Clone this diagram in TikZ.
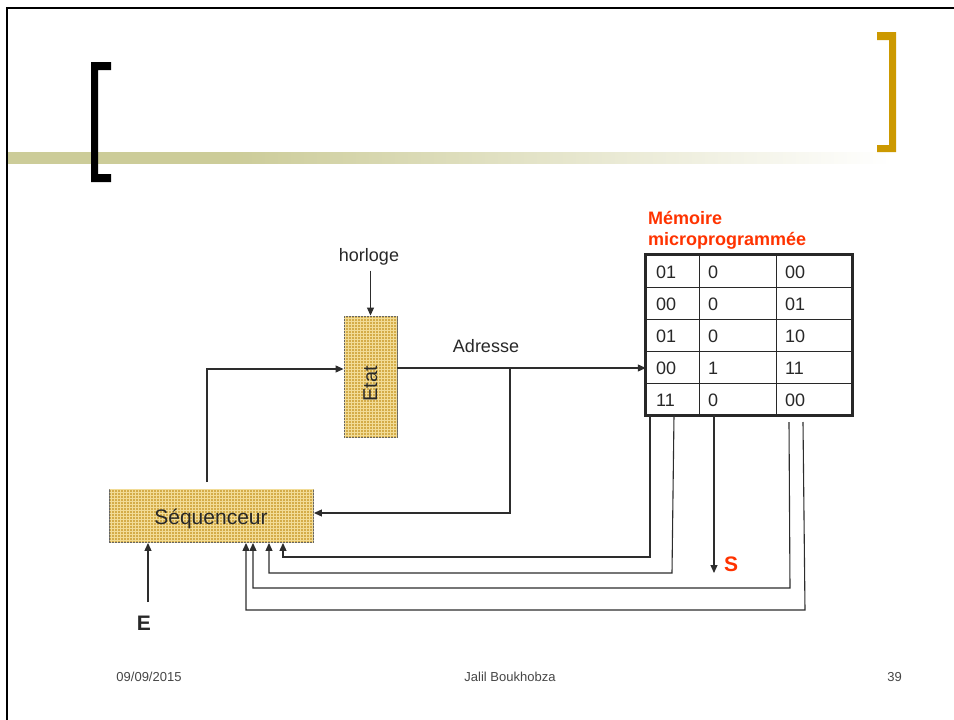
\documentclass[tikz,border=0pt]{standalone}
\usepackage{fontspec}
\setmainfont{Liberation Sans}
\usetikzlibrary{arrows.meta,patterns,calc}
\definecolor{txt}{RGB}{40,40,40}
\definecolor{wirec}{RGB}{45,45,45}
\definecolor{boxfill}{RGB}{212,172,72}
\definecolor{boxpat}{RGB}{242,220,150}
\definecolor{olivebar}{RGB}{204,204,153}
\definecolor{goldc}{RGB}{204,153,0}
\definecolor{redt}{RGB}{255,51,0}
\definecolor{foot}{RGB}{70,70,70}
\pgfdeclarehorizontalshading{barshade}{100bp}{color(0bp)=(olivebar); color(25bp)=(olivebar); color(37.7bp)=(olivebar); color(75bp)=(white); color(100bp)=(white)}
\begin{document}
\begin{tikzpicture}[x=1pt,y=-1pt,
  wire/.style={draw=wirec, line width=1.1pt},
  arr/.style={wire,-{Triangle[length=8pt,width=7pt]}},
  tbox/.style={draw=black!60, line width=0.9pt, fill=boxfill, inner sep=0pt,
     postaction={pattern=grid, pattern color=boxpat}},
  lbl/.style={text=txt, anchor=base, inner sep=0pt, font=\fontsize{18}{21}\selectfont},
  cellt/.style={text=txt, anchor=base west, inner sep=0pt, font=\fontsize{18}{21}\selectfont},
  cellline/.style={draw=txt, line width=1pt},
  foottxt/.style={text=foot, anchor=base, inner sep=0pt, font=\fontsize{13}{15}\selectfont}]
\useasboundingbox (0,0) rectangle (954,720);
\fill[white] (0,0) rectangle (954,720);
% slide frame
\draw[line width=2pt] (7,720) -- (7,8) -- (954,8);
% title bar
\shade[shading=barshade] (8,152) rectangle (892,163);
% brackets
\fill[black] (91,62) -- (111,62) -- (111,70) -- (98,70) -- (98,174) -- (111,174) -- (111,182) -- (91,182) -- cycle;
\fill[goldc] (896,32) -- (877,32) -- (877,40) -- (889,40) -- (889,145) -- (877,145) -- (877,152) -- (896,152) -- cycle;

% boxes
\node[tbox, minimum width=53pt, minimum height=121pt] (etat) at (370.5,376.5) {};
\node[rotate=90, anchor=base, inner sep=0pt, text=txt, font=\fontsize{20}{22}\selectfont] (etattxt) at (377,384) {Etat};
\node[tbox, minimum width=204pt, minimum height=53pt] (seq) at (211.5,516) {};
\node[anchor=base, inner sep=0pt, text=txt, font=\fontsize{21}{24}\selectfont] (seqtxt) at (211,524) {Séquenceur};

% memory table
\node[minimum width=206pt, minimum height=160pt, inner sep=0pt] (mem) at (749,335) {};
\foreach \cx in {699,776} \draw[cellline] (mem.north -| \cx,0) -- (mem.south -| \cx,0);
\foreach \ry in {287,319,351,383} \draw[cellline] (mem.west |- 0,\ry) -- (mem.east |- 0,\ry);
\draw[draw=txt, line width=2.7pt] (mem.north west) rectangle (mem.south east);
\foreach \a/\b/\c [count=\i] in {01/0/00, 00/0/01, 01/0/10, 00/1/11, 11/0/00} {
  \node[cellt] (ca\i) at (656,{278+32*(\i-1)}) {\a};
  \node[cellt] (cb\i) at (708,{278+32*(\i-1)}) {\b};
  \node[cellt] (cc\i) at (785,{278+32*(\i-1)}) {\c};
}
\node[anchor=base west, inner sep=0pt, text=redt, font=\bfseries\fontsize{18}{21}\selectfont] (memt1) at (648,224) {Mémoire};
\node[anchor=base west, inner sep=0pt, text=redt, font=\bfseries\fontsize{18}{21}\selectfont] (memt2) at (648,245) {microprogrammée};

% labels
\node[lbl] (horl) at (369,261) {horloge};
\node[lbl] (adr) at (486,352) {Adresse};
\node[anchor=base, inner sep=0pt, text=txt, font=\bfseries\fontsize{21}{24}\selectfont] (E) at (144,630) {E};
\node[anchor=base, inner sep=0pt, text=redt, font=\bfseries\fontsize{21}{24}\selectfont] (S) at (731,571) {S};

% connectors
\draw[arr] ($(etat.north)+(0,-45)$) -- (etat.north);
\draw[arr] (207,482) |- (etat.west |- 0,369);
\draw[arr] (etat.east |- 0,368) -- (mem.west |- 0,368);
\draw[arr] (510,368) |- (seq.east |- 0,513);
\draw[arr] (148,602) -- (seq.south -| 148,0);
\draw[arr] (mem.south -| 714,0) -- (714,573);
\draw[arr] (mem.south -| 650,0) -- (650,557) -| (seq.south -| 283,0);
\draw[arr] (mem.south -| 674,0) -- (672,573) -| (seq.south -| 269,0);
\draw[arr] (789,422) -- (790,588) -| (seq.south -| 253,0);
\draw[arr] (803,422) -- (805,610) -| (seq.south -| 246,0);

% footer
\node[foottxt] (date) at (149,681) {09/09/2015};
\node[foottxt] (auth) at (510,681) {Jalil Boukhobza};
\node[foottxt] (page) at (894.5,681) {39};
\end{tikzpicture}
\end{document}
